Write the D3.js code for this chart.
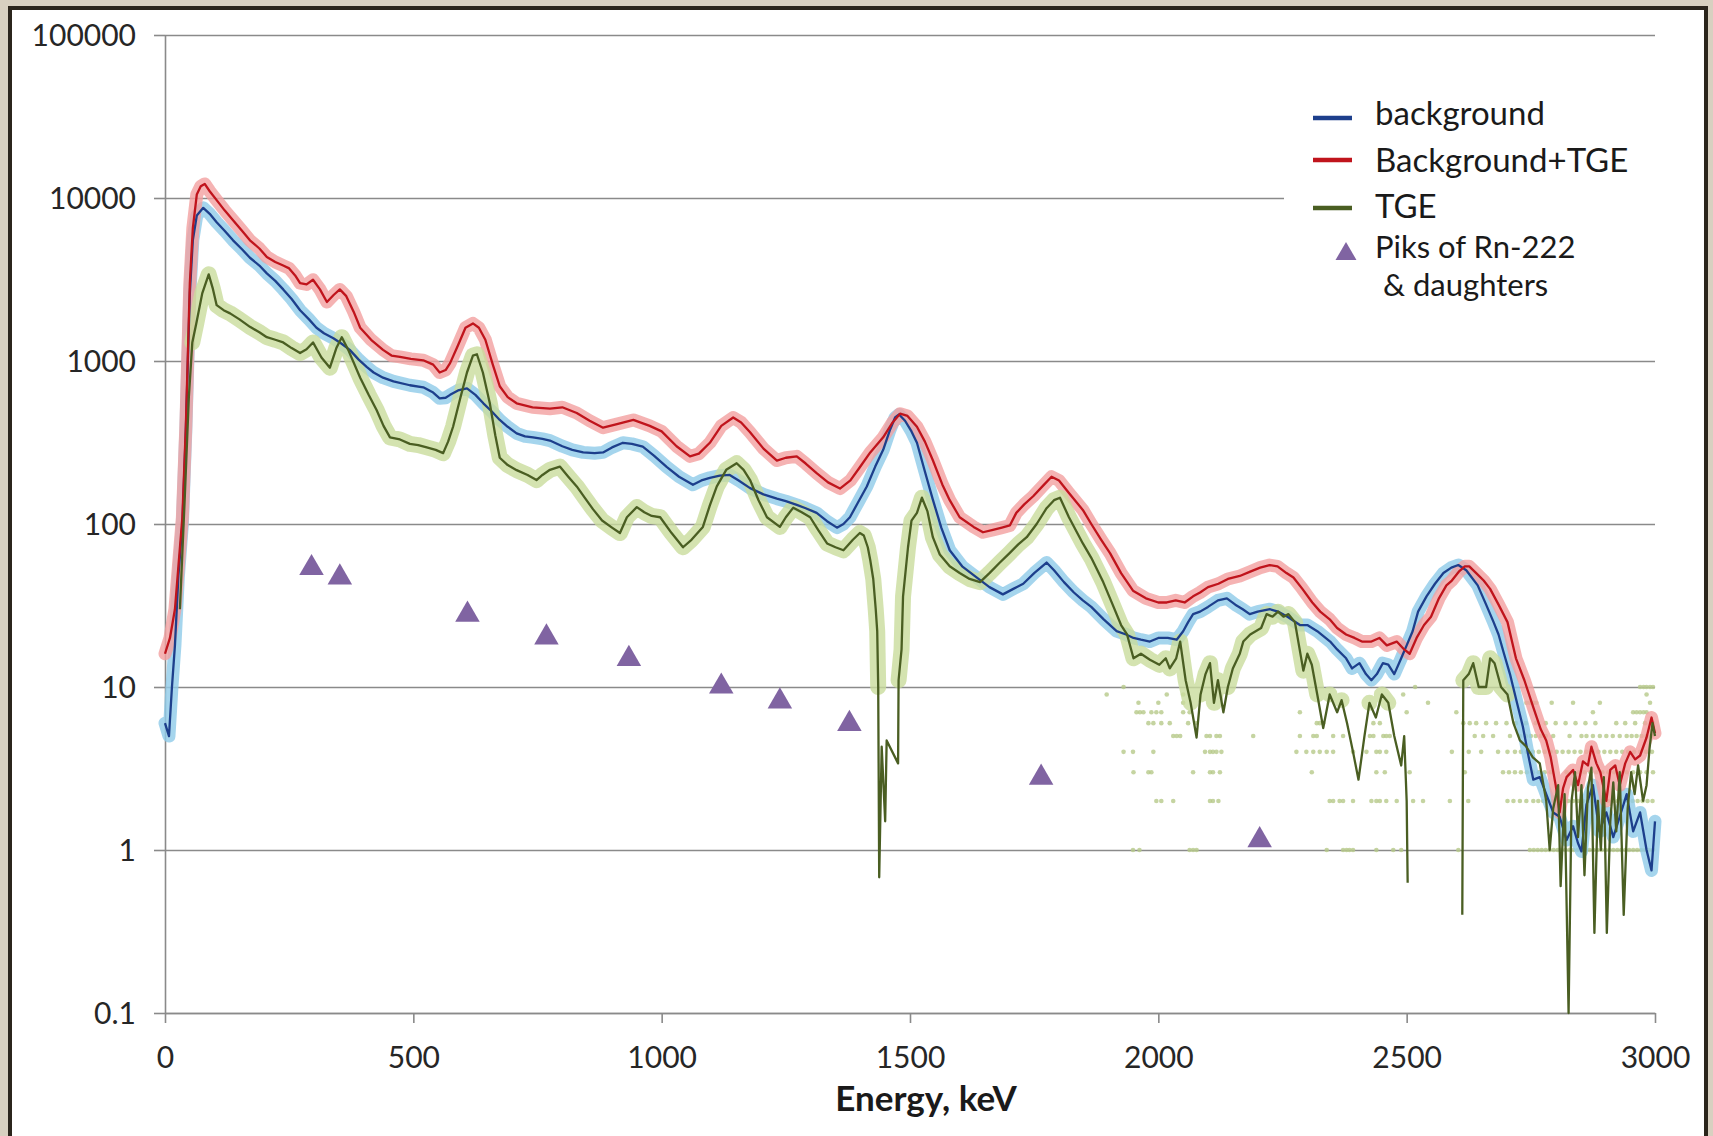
<!DOCTYPE html>
<html>
<head>
<meta charset="utf-8">
<script src="https://cdn.jsdelivr.net/npm/d3@7"></script>
<style>
  html, body { margin: 0; padding: 0; background: #d8d0c0; }
  svg { display: block; font-family: Lato, "Open Sans", sans-serif; }
</style>
</head>
<body>
<svg id="chart" width="1713" height="1136"></svg>
<script>
// ---- data: [energy keV, counts] ----
const bgLine = [[0,6],[8,5],[14,10],[20,18],[27,48],[35,100],[42,380],[46,1000],[50,2600],[56,5500],[64,7800],[77,8700],[90,8000],[104,7100],[120,6300],[137,5500],[155,4850],[171,4300],[190,3850],[205,3450],[222,3100],[238,2750],[255,2400],[272,2050],[290,1800],[305,1600],[320,1480],[339,1380],[355,1280],[372,1170],[390,1020],[406,920],[420,850],[439,790],[460,750],[493,710],[520,690],[540,640],[553,590],[565,595],[574,620],[590,660],[608,680],[625,620],[641,550],[658,490],[674,435],[690,395],[708,360],[725,345],[741,340],[760,333],[775,325],[800,300],[820,285],[842,275],[865,272],[882,275],[900,295],[922,315],[940,310],[962,298],[985,262],[1010,224],[1035,195],[1063,174],[1080,185],[1097,192],[1117,198],[1137,200],[1155,185],[1178,166],[1205,152],[1232,143],[1250,138],[1272,131],[1290,125],[1312,117],[1333,104],[1353,95],[1366,100],[1379,110],[1395,135],[1413,170],[1430,225],[1446,285],[1460,380],[1470,450],[1478,470],[1490,430],[1503,370],[1514,315],[1530,210],[1546,141],[1563,95],[1580,69],[1605,55],[1634,47],[1660,41],[1687,37],[1708,40],[1728,43],[1750,50],[1775,58],[1790,52],[1810,44],[1830,38],[1848,34],[1865,31],[1890,26],[1916,22],[1935,21],[1950,20],[1965,19.5],[1983,19],[2000,20],[2019,20],[2037,19.5],[2050,22],[2060,25],[2070,28],[2084,29],[2100,31],[2120,34],[2138,35],[2155,32],[2170,30],[2184,28],[2200,29],[2225,30],[2241,29],[2260,27],[2285,24],[2300,24],[2320,22],[2346,19],[2360,17],[2378,15],[2390,13],[2405,14],[2418,12],[2429,11],[2440,12],[2452,14],[2463,13.7],[2475,12],[2489,15],[2500,18],[2512,22],[2523,29],[2540,36],[2557,43],[2574,50],[2590,54],[2604,56],[2620,52],[2643,42],[2660,32],[2675,25],[2685,21],[2696,16],[2708,12],[2720,8.5],[2734,5.7],[2745,3.8],[2755,2.7],[2768,2.8],[2781,2.2],[2795,1.7],[2808,1.6],[2822,1.15],[2835,1.4],[2845,1.1],[2852,0.98],[2862,1.9],[2875,2.5],[2888,1.3],[2902,1.7],[2916,1.2],[2929,1.6],[2943,2.2],[2956,1.3],[2970,1.7],[2983,1.0],[2993,0.75],[3000,1.5]];

const bgTgeLine = [[0,16],[10,20],[20,30],[27,55],[35,110],[42,400],[46,1100],[50,3000],[56,6500],[64,10500],[72,11800],[80,12200],[90,11000],[104,9700],[120,8400],[137,7300],[155,6300],[171,5500],[190,4900],[205,4350],[222,4050],[238,3850],[250,3700],[262,3350],[272,3000],[285,2950],[298,3150],[312,2750],[326,2300],[340,2550],[352,2750],[365,2500],[380,2000],[393,1600],[415,1350],[439,1170],[456,1080],[473,1060],[495,1030],[520,1010],[540,950],[553,850],[565,880],[574,970],[590,1250],[605,1600],[620,1700],[632,1600],[645,1350],[660,950],[674,700],[690,600],[708,550],[740,520],[775,510],[800,520],[829,480],[855,430],[882,390],[910,410],[943,435],[976,400],[1000,370],[1030,300],[1057,260],[1075,270],[1097,315],[1120,400],[1144,450],[1160,420],[1178,365],[1205,290],[1232,245],[1250,255],[1272,260],[1290,235],[1312,205],[1335,180],[1359,165],[1380,185],[1399,223],[1420,275],[1446,340],[1465,420],[1480,475],[1495,460],[1514,395],[1530,320],[1546,246],[1565,175],[1580,140],[1600,110],[1628,96],[1647,89],[1667,92],[1685,95],[1701,98],[1714,117],[1730,132],[1748,148],[1768,172],[1785,195],[1800,185],[1820,155],[1848,122],[1865,100],[1885,80],[1903,66],[1925,50],[1949,39],[1975,35],[2000,33],[2017,33],[2035,34],[2053,33],[2070,36],[2084,38],[2100,41],[2121,43],[2140,46],[2164,48],[2185,51],[2205,54],[2224,56],[2240,55],[2258,50],[2272,47],[2290,40],[2310,33],[2326,29],[2345,26],[2360,23],[2378,21],[2395,20],[2410,19],[2429,19],[2445,20],[2460,18],[2480,19],[2495,17],[2506,16],[2520,20],[2535,24],[2549,27],[2565,35],[2580,42],[2591,45],[2605,51],[2617,55],[2626,55],[2640,50],[2655,45],[2668,40],[2685,32],[2703,25],[2720,15],[2737,11],[2755,7.5],[2770,5.5],[2781,4.7],[2790,3.7],[2800,2.5],[2808,1.7],[2815,2.4],[2822,2.8],[2835,3.1],[2845,2.5],[2855,3.5],[2865,3.3],[2872,4.3],[2882,3.4],[2890,3.0],[2902,2.0],[2910,3.1],[2920,3.3],[2929,2.5],[2940,3.4],[2950,4.0],[2960,3.6],[2970,3.8],[2983,4.9],[2993,6.5],[3000,5.2]];

// null = no counts (gap on the log axis)
const tgeLine = [[30,30],[40,150],[48,600],[55,1300],[63,1700],[75,2600],[88,3400],[96,2800],[104,2200],[118,2050],[131,1960],[150,1800],[171,1620],[190,1500],[205,1400],[222,1350],[238,1300],[255,1200],[272,1120],[285,1180],[298,1300],[315,1050],[332,910],[345,1200],[356,1400],[370,1150],[393,790],[410,620],[426,500],[440,400],[453,340],[473,330],[493,310],[510,305],[527,295],[545,285],[560,272],[570,320],[580,395],[595,600],[608,850],[620,1080],[628,1100],[640,850],[654,550],[665,350],[674,255],[690,230],[708,214],[730,200],[748,186],[760,200],[775,215],[795,225],[812,195],[829,170],[845,145],[862,123],[880,105],[900,95],[916,88],[930,110],[950,127],[965,118],[980,112],[997,110],[1020,88],[1043,72],[1060,80],[1083,96],[1097,130],[1111,170],[1130,215],[1151,236],[1165,215],[1178,186],[1195,140],[1212,110],[1238,96],[1250,110],[1265,126],[1282,118],[1299,110],[1315,92],[1333,76],[1350,72],[1366,69],[1385,80],[1399,88],[1407,85],[1415,72],[1420,60],[1426,46],[1431,30],[1434,22],[1436,10],[1438,0.68],[1443,4.3],[1450,1.5],[1453,4.7],[1476,3.4],[1477,11],[1483,17],[1486,36],[1496,72],[1503,105],[1514,117],[1524,145],[1535,120],[1546,83],[1560,65],[1580,55],[1600,50],[1620,46],[1641,44],[1660,50],[1681,58],[1700,66],[1718,75],[1735,83],[1755,100],[1775,125],[1790,140],[1802,145],[1820,110],[1848,76],[1865,62],[1889,44],[1908,32],[1925,24],[1937,21],[1950,15],[1965,16],[1983,14.7],[2002,13.7],[2015,15],[2023,13],[2036,15],[2044,19],[2055,11],[2065,8],[2077,4.9],[2085,9],[2095,12],[2104,14],[2112,8],[2120,11],[2131,7],[2140,10],[2150,13],[2164,16],[2171,19],[2185,21],[2207,23],[2218,28],[2230,27],[2241,29],[2252,27],[2262,28],[2275,25],[2292,12.6],[2300,16],[2309,13.7],[2320,9],[2332,5.6],[2345,9],[2360,7],[2369,8.3],[2380,6],[2392,4],[2403,2.7],[2415,5],[2425,8],[2438,6.5],[2450,9],[2463,8],[2475,5],[2489,3.3],[2495,5],[2500,2],[2502,0.63],[2560,null],[2612,0.4],[2614,11],[2625,12],[2634,14],[2645,10],[2660,10],[2668,15],[2677,14],[2690,10],[2703,9],[2715,6],[2728,4.7],[2741,4.3],[2754,3.7],[2768,3.4],[2781,2],[2788,1.0],[2795,1.8],[2805,2.5],[2810,0.6],[2818,2.2],[2826,0.1],[2832,2.0],[2839,3.0],[2845,1.2],[2852,2.5],[2858,0.7],[2865,2.4],[2872,3.2],[2878,0.31],[2885,2.0],[2891,1.0],[2897,2.8],[2903,0.31],[2910,1.5],[2916,2.6],[2922,1.3],[2929,3.0],[2937,0.4],[2945,1.8],[2952,3.0],[2959,2.2],[2966,3.3],[2976,2.0],[2983,2.5],[2989,4.2],[2995,6],[3000,5]];

// raw low-count TGE channels (integer count rows at high energy)
const dotLevels = [1, 2, 3, 4, 5, 6, 7, 8, 9, 10];
const dotEnergies = [
  [1949,1962,2063,2070,2077,2339,2372,2379,2385,2392,2439,2473,2489,2604,2748,2756,2764,2772,2780,2788,2796,2804,2812,2820,2828,2836,2844,2852,2860,2868,2876,2884,2892,2900,2908,2916,2924,2932,2940,2948,2956,2964,2972,2980,2988,2996],
  [1996,2006,2030,2104,2110,2121,2345,2352,2365,2372,2392,2429,2439,2446,2459,2480,2513,2533,2587,2624,2703,2715,2728,2741,2755,2765,2775,2785,2795,2805,2815,2825,2835,2845,2855,2865,2875,2885,2895,2905,2915,2925,2935,2945,2955,2965,2975,2985,2995],
  [1950,1980,1986,2070,2104,2110,2124,2309,2439,2456,2506,2617,2694,2706,2718,2730,2742,2754,2766,2778,2790,2822,2834,2846,2858,2870,2882,2894,2906,2918,2930,2943,2956,2970,2983,2996],
  [1930,1949,1990,2094,2104,2110,2117,2127,2278,2298,2312,2325,2339,2352,2392,2419,2439,2446,2459,2591,2625,2650,2684,2703,2718,2730,2742,2754,2766,2778,2790,2802,2814,2826,2838,2850,2862,2874,2886,2898,2910,2922,2934,2946,2958,2970,2982,2994],
  [2030,2037,2044,2097,2104,2117,2124,2191,2285,2312,2319,2352,2372,2426,2433,2453,2459,2466,2637,2654,2674,2708,2728,2740,2750,2760,2770,2780,2795,2828,2852,2862,2875,2889,2902,2915,2929,2943,2953,2963,2973,2983,2993],
  [1980,1990,2006,2023,2060,2075,2319,2325,2332,2433,2446,2614,2627,2640,2660,2680,2701,2720,2740,2760,2780,2800,2820,2840,2860,2880,2922,2940,2960,2980,2996],
  [1956,1963,1970,1986,1996,2006,2050,2063,2285,2500,2600,2875,2956,2963,2970,2977,2983],
  [1960,2000,2050,2543,2741,2748,2755,2761,2792,2835,2889,2990],
  [1896,2017,2050,2493,2983],
  [1930,2517,2970,2977,2983,2990,2996]
];

// Rn-222 & daughters peaks
const rnEnergy = [295, 352, 609, 768, 934, 1120, 1238, 1378, 1764, 2204];
const rnValue = [56, 49, 29, 21, 15.5, 10.5, 8.5, 6.2, 2.9, 1.2];

const yTicks = [0.1, 1, 10, 100, 1000, 10000, 100000];
const yTickLabels = ["0.1", "1", "10", "100", "1000", "10000", "100000"];
const xTicks = [0, 500, 1000, 1500, 2000, 2500, 3000];

const legendItems = [
  { label: "background", color: "#1d3f8c" },
  { label: "Background+TGE", color: "#c0141c" },
  { label: "TGE", color: "#4a5e22" }
];

// ---- drawing ----
const svg = d3.select('#chart');

// stone backdrop and white frame
svg.append("rect").attr("width", 1713).attr("height", 1136).attr("fill", "#d8d0c0");
svg.append("rect")
  .attr("x", 10).attr("y", 8).attr("width", 1696).attr("height", 1160)
  .attr("fill", "#ffffff").attr("stroke", "#2b251c").attr("stroke-width", 4);

const x = d3.scaleLinear().domain([0, 3000]).range([165, 1655]);
const y = d3.scaleLog().domain([0.1, 100000]).range([1013, 35]);

// gridlines
svg.append("g")
  .attr("transform", "translate(165,0)")
  .call(d3.axisLeft(y).tickValues(yTicks).tickSizeInner(-(1655 - 165)).tickSizeOuter(0).tickFormat(""))
  .call(g => g.select(".domain").remove())
  .selectAll("line").attr("stroke", "#8a8a8a").attr("stroke-width", 1.6);

// y axis with labels
const yAxisGroup = svg.append("g")
  .attr("transform", "translate(165,0)")
  .call(d3.axisLeft(y).tickValues(yTicks).tickSize(11).tickSizeOuter(0)
    .tickFormat((d, i) => yTickLabels[i]));
yAxisGroup.select(".domain").attr("stroke", "#8a8a8a").attr("stroke-width", 1.6);
yAxisGroup.selectAll("line").attr("stroke", "#8a8a8a").attr("stroke-width", 1.6);
yAxisGroup.selectAll("text")
  .attr("x", -29).attr("dy", "0.35em")
  .attr("font-family", "Lato, sans-serif").attr("font-size", 30).attr("fill", "#262626");

// x axis
const xAxisGroup = svg.append("g")
  .attr("transform", "translate(0,1013)")
  .call(d3.axisBottom(x).tickValues(xTicks).tickSize(10).tickSizeOuter(0).tickFormat(d3.format("d")));
xAxisGroup.select(".domain").attr("stroke", "#8a8a8a").attr("stroke-width", 1.6);
xAxisGroup.selectAll("line").attr("stroke", "#8a8a8a").attr("stroke-width", 1.6);
xAxisGroup.selectAll("text")
  .attr("y", 55).attr("dy", null)
  .attr("font-family", "Lato, sans-serif").attr("font-size", 30).attr("fill", "#262626");

// x axis title
svg.append("text")
  .attr("x", 926).attr("y", 1111)
  .attr("text-anchor", "middle")
  .attr("font-size", 35).attr("font-weight", "bold").attr("fill", "#1a1a1a")
  .text("Energy, keV");

// clip to plot area
svg.append("clipPath").attr("id", "plot")
  .append("rect").attr("x", 150).attr("y", 30).attr("width", 1515).attr("height", 985);

const plot = svg.append("g").attr("clip-path", "url(#plot)");

const line = d3.line()
  .defined(d => d[1] != null && d[1] > 0)
  .x(d => x(d[0]))
  .y(d => y(d[1]));

// the TGE dot band is only dense where counts are healthy
const tgeHalo = d3.line()
  .defined(d => d[1] != null && d[1] >= 8 && d[0] >= 55)
  .x(d => x(d[0]))
  .y(d => y(d[1]));

// raw count dots (low-count rows)
dotLevels.forEach((lvl, i) => {
  plot.append("g").selectAll("circle")
    .data(dotEnergies[i])
    .enter().append("circle")
    .attr("cx", d => x(d))
    .attr("cy", y(lvl))
    .attr("r", 2.3)
    .attr("fill", "#b7c98a")
    .attr("opacity", 0.8);
});

// scatter bands of the raw data around each trend
const series = [
  { data: bgLine, halo: "#8fcbe9", color: "#1d3f8c", hw: 13, def: line },
  { data: bgTgeLine, halo: "#f3a0a0", color: "#c0141c", hw: 13, def: line },
  { data: tgeLine, halo: "#c9dc9c", color: "#4a5e22", hw: 16, def: tgeHalo }
];

series.forEach(s => {
  plot.append("path")
    .datum(s.data)
    .attr("d", s.def)
    .attr("fill", "none")
    .attr("stroke", s.halo)
    .attr("stroke-width", s.hw)
    .attr("stroke-linejoin", "round")
    .attr("stroke-linecap", "round")
    .attr("opacity", 0.8);
});

// moving-average trend lines
series.forEach(s => {
  plot.append("path")
    .datum(s.data)
    .attr("d", line)
    .attr("fill", "none")
    .attr("stroke", s.color)
    .attr("stroke-width", 2.3)
    .attr("stroke-linejoin", "round");
});

// Rn-222 peak markers
const tri = d3.symbol().type(d3.symbolTriangle).size(260);
svg.append("g").selectAll("path")
  .data(rnEnergy)
  .enter().append("path")
  .attr("d", tri)
  .attr("transform", (d, i) => `translate(${x(d)},${y(rnValue[i]) + 3})`)
  .attr("fill", "#8064a2");

// legend
const legend = svg.append("g");
legend.append("rect")
  .attr("x", 1284).attr("y", 84).attr("width", 372).attr("height", 224)
  .attr("fill", "#ffffff");

const rowY = [118, 160, 208];
const textY = [125, 172, 218];
legendItems.forEach((item, i) => {
  legend.append("line")
    .attr("x1", 1313).attr("x2", 1352)
    .attr("y1", rowY[i]).attr("y2", rowY[i])
    .attr("stroke", item.color).attr("stroke-width", 4.5);
  legend.append("text")
    .attr("x", 1375).attr("y", textY[i])
    .attr("font-size", 33).attr("fill", "#1a1a1a")
    .text(item.label);
});
legend.append("path")
  .attr("d", d3.symbol().type(d3.symbolTriangle).size(190))
  .attr("transform", "translate(1346,254)")
  .attr("fill", "#8064a2");
legend.append("text")
  .attr("x", 1375).attr("y", 258)
  .attr("font-size", 31).attr("fill", "#1a1a1a")
  .text("Piks of Rn-222");
legend.append("text")
  .attr("x", 1383).attr("y", 296)
  .attr("font-size", 31).attr("fill", "#1a1a1a")
  .text("& daughters");
</script>
</body>
</html>
